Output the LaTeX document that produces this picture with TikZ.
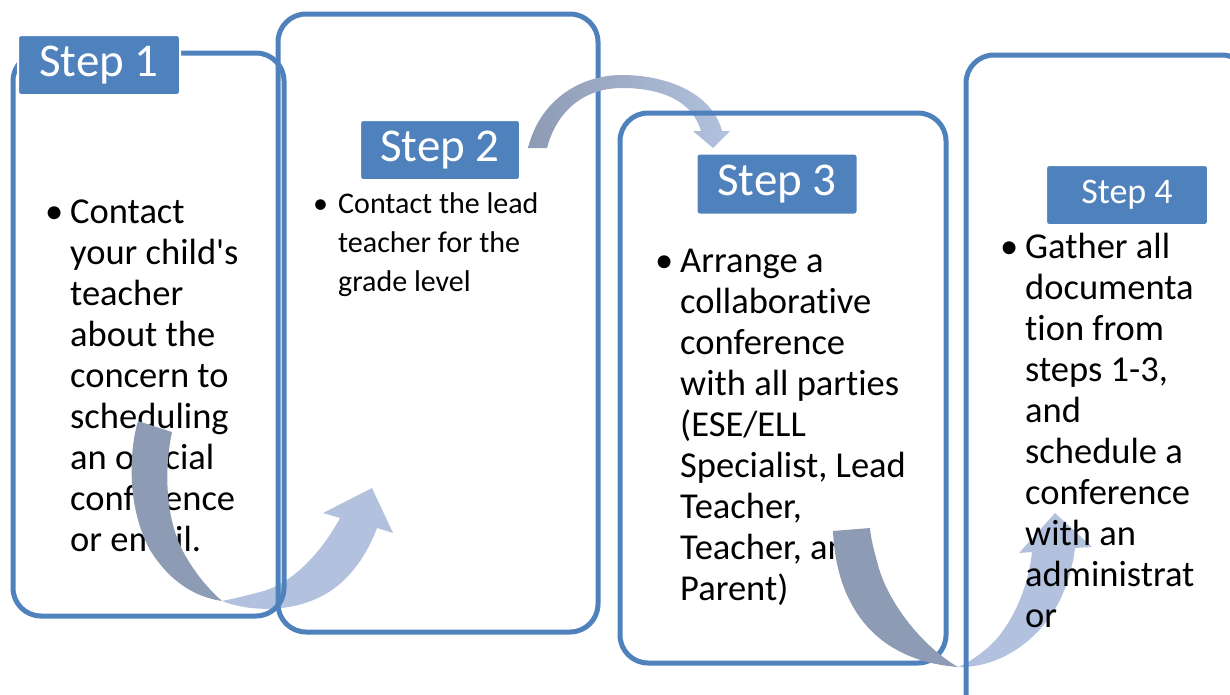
\documentclass[tikz,border=0pt]{standalone}
\usepackage{fontspec}
\setmainfont{Carlito}[Ligatures={TeXOff,NoCommon}]
\definecolor{stepblue}{HTML}{4F81BD}
\definecolor{arrdark}{HTML}{8E9BB4}
\definecolor{arrlight}{HTML}{B2C2DE}
\tikzset{
  panel/.style={draw=stepblue, line width=5pt, rounded corners=28pt, inner sep=0pt, fill=none},
  steplabel/.style={fill=stepblue, draw=white, line width=2pt, rounded corners=3pt, text=white, inner sep=0pt},
  bigtext/.style={anchor=base west, inner sep=0pt, font=\fontsize{36.5}{41}\selectfont},
  smalltext/.style={anchor=base west, inner sep=0pt, font=\fontsize{30}{39}\selectfont},
  darkband/.style={fill=arrdark},
  lightband/.style={fill=arrlight}
}
\begin{document}
\begin{tikzpicture}[x=1pt,y=-1pt]
\useasboundingbox (0,0) rectangle (1230,694);
\clip (0,0) rectangle (1230,694);

% ---- Step 1 text
\node[bigtext] (u1) at (45,223) {•};
\node[bigtext] (t1) at (70,223) {\parbox[t]{300pt}{\raggedright Contact\\your child's\\teacher\\about the\\concern to\\scheduling\\an official\\conference\\or email.}};

% ---- Arrow 1
\fill[darkband] (138,421) .. controls (128,455) and (128,510) .. (150,550) .. controls (170,582) and (195,597) .. (222,601) .. controls (212,592) and (198,578) .. (185,555) .. controls (165,520) and (164,470) .. (172,432) -- cycle;
\fill[lightband] (222,601) .. controls (250,612) and (290,612) .. (320,597) .. controls (345,585) and (365,560) .. (377,528) -- (393,533) -- (372,488) -- (323,513) -- (340,518) .. controls (320,555) and (290,585) .. (260,592) .. controls (245,596) and (232,599) .. (222,601) -- cycle;

% ---- Boxes 1 and 2
\node[panel, minimum width=271pt, minimum height=563pt] (b1) at (148.5,334.5) {};
\node[steplabel, minimum width=162pt, minimum height=60pt, font=\fontsize{47}{50}\selectfont] (s1) at (99,65) {Step 1};
\node[panel, minimum width=320pt, minimum height=618pt] (b2) at (438,323) {};
\node[steplabel, minimum width=160pt, minimum height=60pt, font=\fontsize{47}{50}\selectfont] (s2) at (440,150) {Step 2};

\node[smalltext] (u2) at (313,213) {•};
\node[smalltext] (t2) at (338,213) {\parbox[t]{300pt}{\raggedright Contact the lead\\teacher for the\\grade level}};

% ---- Arrow 2
\shade[left color=arrdark, right color=arrlight] (528,148) .. controls (540,100) and (580,75) .. (622,75) .. controls (665,75) and (712,92) .. (722,131) -- (730,131) -- (713,148) -- (693,131) -- (701,131) .. controls (692,100) and (660,88) .. (622,88) .. controls (585,88) and (557,110) .. (547,148) -- cycle;

% ---- Box 3
\node[panel, minimum width=326pt, minimum height=550pt] (b3) at (783,388) {};
\node[steplabel, minimum width=161pt, minimum height=61pt, font=\fontsize{47}{50}\selectfont] (s3) at (777,184) {Step 3};
\node[bigtext] (u3) at (655,272) {•};
\node[bigtext] (t3) at (680,272) {\parbox[t]{300pt}{\raggedright Arrange a\\collaborative\\conference\\with all parties\\(ESE/ELL\\Specialist, Lead\\Teacher,\\Teacher, and\\Parent)}};

% ---- Arrow 3
\fill[darkband] (833,531) .. controls (836,600) and (870,660) .. (958,667) .. controls (920,645) and (887,600) .. (878,565) .. controls (874,550) and (871,540) .. (870,528) -- cycle;
\fill[lightband] (958,667) .. controls (1000,668) and (1040,640) .. (1060,600) .. controls (1068,583) and (1073,565) .. (1075,548) -- (1092,547) -- (1055,513) -- (1019,553) -- (1032,552) .. controls (1028,590) and (1010,630) .. (985,650) .. controls (975,658) and (966,664) .. (958,667) -- cycle;

% ---- Box 4
\node[panel, minimum width=284pt, minimum height=665pt] (b4) at (1108,387.5) {};
\node[steplabel, minimum width=162pt, minimum height=60pt, font=\fontsize{36}{40}\selectfont] (s4) at (1127,195) {Step 4};
\node[bigtext] (u4) at (1000,258) {•};
\node[bigtext] (t4) at (1025,258) {\parbox[t]{300pt}{\raggedright Gather all\\documenta\\tion from\\steps 1-3,\\and\\schedule a\\conference\\with an\\administrat\\or}};
\end{tikzpicture}
\end{document}
